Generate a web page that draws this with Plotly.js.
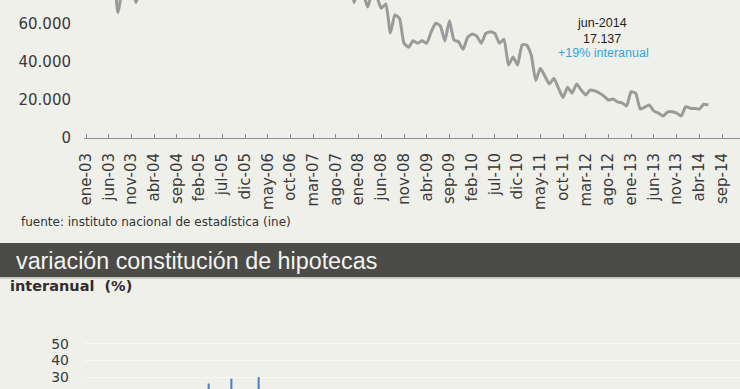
<!DOCTYPE html>
<html>
<head>
<meta charset="utf-8">
<script src="https://cdn.plot.ly/plotly-3.0.1.min.js"></script>
<style>
html,body{margin:0;padding:0;width:740px;height:389px;overflow:hidden;background:#f0f0ea;}
#chart{width:740px;height:389px;}
</style>
</head>
<body>
<div id="chart"></div>
<script>
// ---- data ----
const MONTHS = ['ene','feb','mar','abr','may','jun','jul','ago','sep','oct','nov','dic'];
const YEARS = ['03','04','05','06','07','08','09','10','11','12','13','14'];
const LAST_LABEL = 'sep-14';
// número de hipotecas sobre viviendas (mensual), ene-03 .. jun-14
const HIPOTECAS = [
  // 2003
  76000, 75000, 80000, 78000, 85000, 82000, 90000, 65800, 78000, 85000, 80000, 71000,
  // 2004
  78000, 82000, 90000, 85000, 88000, 95000, 100000, 80000, 88000, 90000, 92000, 88000,
  // 2005
  88000, 92000, 95000, 100000, 105000, 110000, 110000, 85000, 100000, 105000, 110000, 100000,
  // 2006
  110000, 108000, 120000, 110000, 125000, 120000, 120000, 90000, 105000, 115000, 115000, 100000,
  // 2007
  110000, 108000, 115000, 100000, 115000, 108000, 110000, 85000, 90000, 95000, 85000, 71000,
  // 2008
  78000, 76000, 68700, 76000, 74000, 68000, 70300, 55000, 64500, 62700, 49600, 47500,
  // 2009
  50900, 49600, 50900, 49600, 55700, 60100, 58700, 50800, 61500, 51300, 50400, 46400,
  // 2010
  52700, 54500, 53400, 49600, 54800, 55700, 54800, 49600, 51700, 38200, 42400, 38200,
  // 2011
  48700, 48700, 43400, 30000, 36400, 32400, 28200, 31000, 26000, 21000, 26500, 23400,
  // 2012
  28200, 25000, 22400, 25000, 24500, 23400, 21800, 19700, 20300, 18700, 18200, 16600,
  // 2013
  24100, 23300, 15000, 16000, 17100, 13900, 12900, 11300, 13400, 13600, 12900, 11300,
  // 2014
  16200, 15400, 15300, 15000, 17500, 17137
];
const LAST_POINT_LABEL = 'jun-2014';
const LAST_POINT_VALUE = 17137;
const LAST_POINT_VARIATION = 19; // % interanual
// variación interanual (%) — only the bars that reach the visible part
const VAR_MONTHS = ['abr-05', 'sep-05', 'mar-06'];
const VAR_VALUES = [26.3, 29.2, 30.1];

// ---- build ----
const LABELS = [];
for (const y of YEARS) for (const m of MONTHS) {
  LABELS.push(m + '-' + y);
}
const nCat = LABELS.indexOf(LAST_LABEL) + 1;
const CATS = LABELS.slice(0, nCat);
const xIdx = HIPOTECAS.map((_, i) => i);
const tickvals = [], ticktext = [];
for (let i = 0; i < CATS.length; i += 5) { tickvals.push(i); ticktext.push(CATS[i]); }

function fmtThousands(v) {
  return String(v).replace(/\B(?=(\d{3})+(?!\d))/g, '.');
}

const W = 740, H = 389;
const py = p => 1 - p / H;   // pixel-from-top -> paper y
const px = p => p / W;

const xDomain = [84 / W, 1];
const xRange = [-0.44, 143.96];

const traces = [
  {
    type: 'scatter', mode: 'lines',
    x: xIdx, y: HIPOTECAS,
    line: { color: '#9a9a9a', width: 3, shape: 'spline', smoothing: 0.5 },
    xaxis: 'x', yaxis: 'y', hoverinfo: 'skip'
  },
  {
    type: 'bar',
    x: VAR_MONTHS.map(m => LABELS.indexOf(m)), y: VAR_VALUES,
    width: 0.45,
    marker: { color: '#4a7fc1' },
    xaxis: 'x2', yaxis: 'y2', hoverinfo: 'skip'
  }
];

const tickFont = { family: 'DejaVu Sans, Verdana, sans-serif', size: 15, color: '#3a3a3a' };

const layout = {
  width: W, height: H,
  margin: { l: 0, r: 0, t: 0, b: 0, pad: 0 },
  paper_bgcolor: '#f0f0ea',
  plot_bgcolor: 'rgba(0,0,0,0)',
  showlegend: false,
  separators: ',.',
  xaxis: {
    domain: xDomain, range: xRange, anchor: 'y',
    tickmode: 'array', tickvals: tickvals, ticktext: ticktext,
    tickangle: -90, ticks: 'inside', ticklen: 4, tickwidth: 1, tickcolor: '#8d8d9b',
    showline: true, linecolor: '#8d8d9b', linewidth: 1.5,
    showgrid: false, zeroline: false,
    tickfont: tickFont, ticklabelstandoff: 8
  },
  yaxis: {
    domain: [py(137.5), 1], range: [0, 72368], anchor: 'x',
    tickmode: 'array', tickvals: [0, 20000, 40000, 60000],
    tickformat: ',d',
    showgrid: false, zeroline: false, showline: false, ticks: '',
    tickfont: tickFont, ticklabelstandoff: 12
  },
  xaxis2: {
    domain: xDomain, range: xRange, anchor: 'y2', visible: false
  },
  yaxis2: {
    domain: [0, py(330)], range: [23.04, 58.15], anchor: 'x2',
    tickmode: 'array', tickvals: [30, 40, 50],
    showgrid: true, gridcolor: '#f7f7f3', gridwidth: 1,
    zeroline: false, showline: false, ticks: '',
    tickfont: { family: 'DejaVu Sans, Verdana, sans-serif', size: 14, color: '#3a3a3a' },
    ticklabelstandoff: 14
  },
  shapes: [
    { type: 'rect', xref: 'paper', yref: 'paper', x0: 0, x1: 1, y0: py(277), y1: py(243),
      fillcolor: '#4b4b48', line: { width: 0 }, layer: 'below' },
    { type: 'line', xref: 'paper', yref: 'paper', x0: 0, x1: 1, y0: py(277.8), y1: py(277.8),
      line: { color: '#b3b3ab', width: 1.2 } }
  ],
  annotations: [
    { xref: 'paper', yref: 'paper', x: px(602), y: py(23.5), xanchor: 'center', yanchor: 'middle',
      text: LAST_POINT_LABEL, showarrow: false,
      font: { family: 'Liberation Sans, Arial, sans-serif', size: 12.5, color: '#1e1e1e' } },
    { xref: 'paper', yref: 'paper', x: px(602), y: py(38.5), xanchor: 'center', yanchor: 'middle',
      text: fmtThousands(LAST_POINT_VALUE), showarrow: false,
      font: { family: 'Liberation Sans, Arial, sans-serif', size: 12.5, color: '#1e1e1e' } },
    { xref: 'paper', yref: 'paper', x: px(603), y: py(53.5), xanchor: 'center', yanchor: 'middle',
      text: '+' + LAST_POINT_VARIATION + '% interanual', showarrow: false,
      font: { family: 'Liberation Sans, Arial, sans-serif', size: 12.5, color: '#2aa9e0' } },
    { xref: 'paper', yref: 'paper', x: px(19), y: py(222), xanchor: 'left', yanchor: 'middle',
      text: 'fuente: instituto nacional de estadística (ine)', showarrow: false,
      font: { family: 'DejaVu Sans, Verdana, sans-serif', size: 12, color: '#333333' } },
    { xref: 'paper', yref: 'paper', x: px(14), y: py(261), xanchor: 'left', yanchor: 'middle',
      text: 'variación constitución de hipotecas', showarrow: false,
      font: { family: 'Liberation Sans, Arial, sans-serif', size: 23.3, color: '#f4f4f2' } },
    { xref: 'paper', yref: 'paper', x: px(8), y: py(286), xanchor: 'left', yanchor: 'middle',
      text: '<b>interanual  (%)</b>', showarrow: false,
      font: { family: 'DejaVu Sans, Verdana, sans-serif', size: 14.5, color: '#332c2c' } }
  ]
};

Plotly.newPlot('chart', traces, layout, { staticPlot: true, displayModeBar: false });
</script>
</body>
</html>
